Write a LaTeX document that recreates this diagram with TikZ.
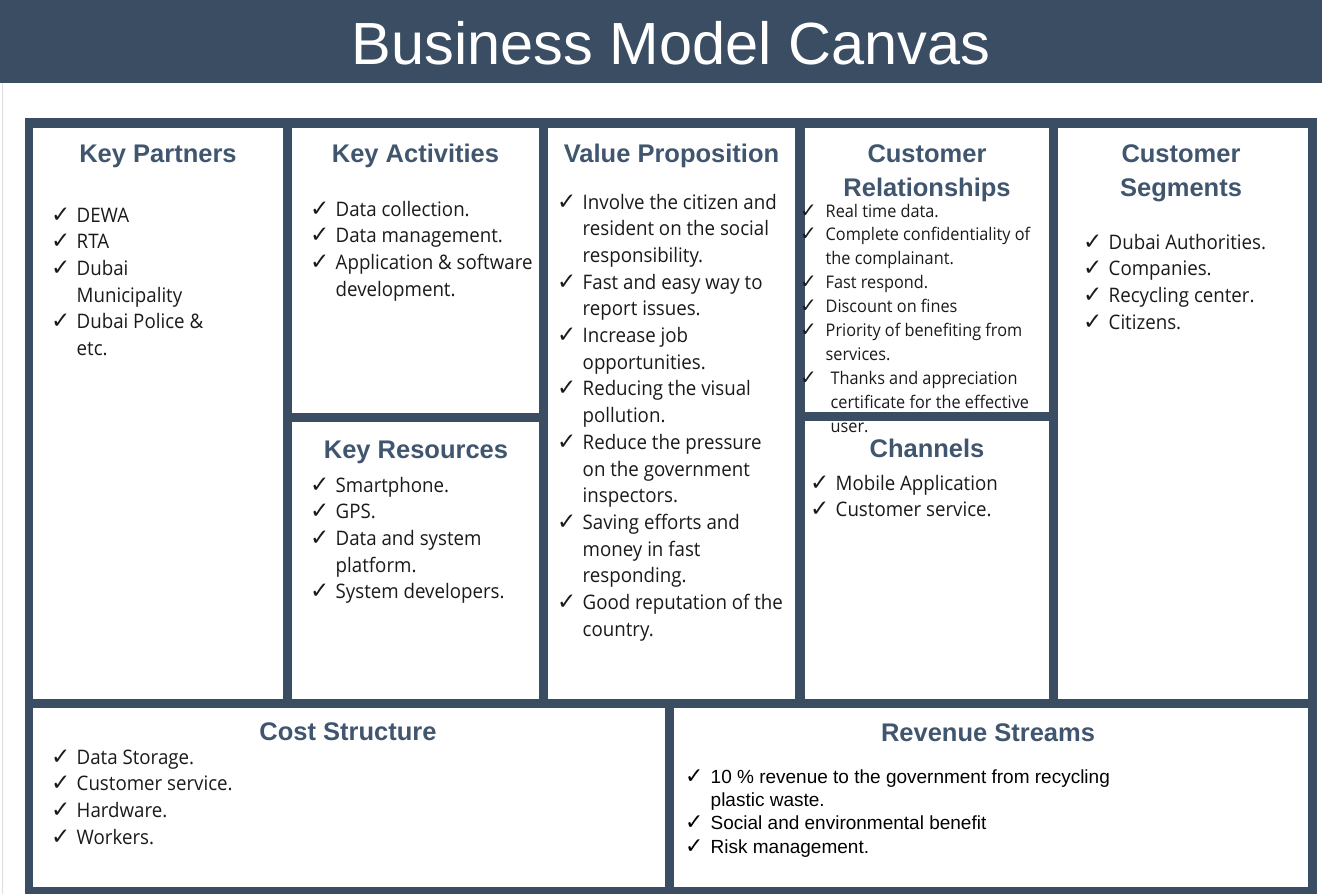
\documentclass[tikz,border=0pt]{standalone}
\usepackage{fontspec}
\setmainfont{Liberation Sans}
\newfontfamily\bodyfont[FakeStretch=0.935]{Open Sans}
\newfontfamily\symfont{DejaVu Sans}
\usepackage{xcolor}
\definecolor{canvasSlate}{RGB}{58,77,99}
\definecolor{canvasHead}{RGB}{64,86,111}
\definecolor{canvasText}{RGB}{26,26,26}
\definecolor{canvasEdge}{RGB}{222,222,222}

\newcommand{\bmtick}{\makebox[25.5pt][l]{\symfont\scalebox{1.15}{✓}}}

\tikzset{
  cell/.style={fill=white, draw=none, inner sep=0pt, anchor=north west},
  head/.style={font=\fontsize{25.5}{34}\selectfont\bfseries, text=canvasHead, anchor=base, inner sep=0pt},
  itemlist/.style={anchor=base west, inner sep=0pt, text=canvasText},
  bodylist/.style={itemlist, font=\bodyfont\fontsize{20}{26.7}\selectfont},
}

\begin{document}
\begin{tikzpicture}[x=1pt, y=-1pt]
  \useasboundingbox (0,0) rectangle (1322,894);

  % Title bar
  \node[fill=canvasSlate, inner sep=0pt, anchor=north west, minimum width=1322pt, minimum height=83pt] (titlebar) at (0,0) {};
  \node[font=\fontsize{59.5}{60}\selectfont, text=white, anchor=base, inner sep=0pt] (title) at (671,64) {Business Model Canvas};
  \draw[canvasEdge, line width=1pt] (2.5,83) -- (2.5,894);

  % Frame and cells
  \node[fill=canvasSlate, inner sep=0pt, anchor=north west, minimum width=1292pt, minimum height=776pt] (frame) at (25,118) {};
  \node[cell, minimum width=250pt, minimum height=571pt] (kp) at (33,128) {};
  \node[cell, minimum width=247pt, minimum height=285pt] (ka) at (292,128) {};
  \node[cell, minimum width=247pt, minimum height=277pt] (kr) at (292,422) {};
  \node[cell, minimum width=247pt, minimum height=571pt] (vp) at (548,128) {};
  \node[cell, minimum width=244pt, minimum height=284pt] (cr) at (805,128) {};
  \node[cell, minimum width=244pt, minimum height=278pt] (ch) at (805,421) {};
  \node[cell, minimum width=250pt, minimum height=571pt] (cs) at (1058,128) {};
  \node[cell, minimum width=632pt, minimum height=179pt] (cost) at (33,708) {};
  \node[cell, minimum width=634pt, minimum height=179pt] (rev) at (674,708) {};

  % Headings
  \node[head] (kphead) at (158,162) {Key Partners};
  \node[head] (kahead) at (415.5,162) {Key Activities};
  \node[head] (vphead) at (671.5,162) {Value Proposition};
  \node[head] (crhead) at (927,162) {\begin{tabular}[t]{@{}c@{}}Customer\\Relationships\end{tabular}};
  \node[head] (cshead) at (1181,162) {\begin{tabular}[t]{@{}c@{}}Customer\\Segments\end{tabular}};
  \node[head] (krhead) at (416,458) {Key Resources};
  \node[head] (chhead) at (927,457) {Channels};
  \node[head] (costhead) at (348,740) {Cost Structure};
  \node[head] (revhead) at (988,741) {Revenue Streams};

  % Lists
  \node[bodylist] (kplist) at (51,222) {\begin{tabular}[t]{@{}l@{}l@{}}
    \bmtick & DEWA\\ \bmtick & RTA\\ \bmtick & Dubai\\ & Municipality\\
    \bmtick & Dubai Police \&\\ & etc.\end{tabular}};
  \node[bodylist] (kalist) at (310,216) {\begin{tabular}[t]{@{}l@{}l@{}}
    \bmtick & Data collection.\\ \bmtick & Data management.\\
    \bmtick & Application \& software\\ & development.\end{tabular}};
  \node[bodylist] (krlist) at (310,492) {\begin{tabular}[t]{@{}l@{}l@{}}
    \bmtick & Smartphone.\\ \bmtick & GPS.\\ \bmtick & Data and system\\ & platform.\\
    \bmtick & System developers.\end{tabular}};
  \node[bodylist] (vplist) at (557,209) {\begin{tabular}[t]{@{}l@{}l@{}}
    \bmtick & Involve the citizen and\\ & resident on the social\\ & responsibility.\\
    \bmtick & Fast and easy way to\\ & report issues.\\
    \bmtick & Increase job\\ & opportunities.\\
    \bmtick & Reducing the visual\\ & pollution.\\
    \bmtick & Reduce the pressure\\ & on the government\\ & inspectors.\\
    \bmtick & Saving efforts and\\ & money in fast\\ & responding.\\
    \bmtick & Good reputation of the\\ & country.\end{tabular}};
  \node[itemlist, font=\bodyfont\fontsize{17.4}{23.9}\selectfont] (crlist) at (800,217) {\begin{tabular}[t]{@{}l@{}l@{}}
    \bmtick & Real time data.\\ \bmtick & Complete confidentiality of\\ & the complainant.\\
    \bmtick & Fast respond.\\ \bmtick & Discount on fines\\
    \bmtick & Priority of benefiting from\\ & services.\\
    \bmtick & \hspace{5pt}Thanks and appreciation\\ & \hspace{5pt}certificate for the effective\\ & \hspace{5pt}user.\end{tabular}};
  \node[bodylist] (cslist) at (1083,249) {\begin{tabular}[t]{@{}l@{}l@{}}
    \bmtick & Dubai Authorities.\\ \bmtick & Companies.\\ \bmtick & Recycling center.\\
    \bmtick & Citizens.\end{tabular}};
  \node[bodylist] (chlist) at (810,490) {\begin{tabular}[t]{@{}l@{}l@{}}
    \bmtick & Mobile Application\\ \bmtick & Customer service.\end{tabular}};
  \node[bodylist] (costlist) at (51,764) {\begin{tabular}[t]{@{}l@{}l@{}}
    \bmtick & Data Storage.\\ \bmtick & Customer service.\\ \bmtick & Hardware.\\
    \bmtick & Workers.\end{tabular}};
  \node[itemlist, text=black, font=\fontsize{19}{23.4}\selectfont] (revlist) at (685,783) {\begin{tabular}[t]{@{}l@{}l@{}}
    \bmtick & 10 \% revenue to the government from recycling\\ & plastic waste.\\
    \bmtick & Social and environmental benefit\\ \bmtick & Risk management.\end{tabular}};
\end{tikzpicture}
\end{document}
